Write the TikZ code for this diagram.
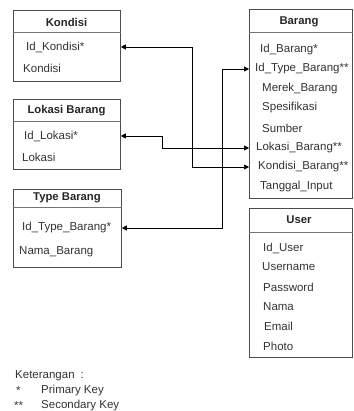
\documentclass[tikz,border=0pt]{standalone}
\usepackage{fontspec}
\setmainfont{Liberation Sans}
\usetikzlibrary{
    arrows.meta,
    positioning
}

\begin{document}
\begin{tikzpicture}[x=1pt, y=-1pt,
    entity/.style={draw=black!70, line width=0.8pt, anchor=north west, inner sep=0pt},
    title/.style={font=\fontsize{11.3}{13}\selectfont\bfseries, text=black!85},
    field/.style={anchor=west, inner sep=0pt, font=\fontsize{11.5}{13}\selectfont, text=black!80},
    sep/.style={draw=black!55, line width=1pt},
    link/.style={<->, >={Triangle[length=5pt,width=5pt]}, line width=0.7pt}
]
\useasboundingbox (0,0) rectangle (353,411);

% Kondisi
\node[entity, minimum width=107pt, minimum height=71pt] (kondisi) at (13,10) {};
\node[title] (tkond) at (66.5,22) {Kondisi};
\draw[sep] (kondisi.west |- 0,33) -- (kondisi.east |- 0,33);
\node[field] (kid) at (26,47) {Id\_Kondisi*};
\node[field] (knama) at (23,68) {Kondisi};

% Lokasi Barang
\node[entity, minimum width=107pt, minimum height=70pt] (lokasi) at (13,99) {};
\node[title] (tlok) at (66.5,111) {Lokasi Barang};
\draw[sep] (lokasi.west |- 0,122) -- (lokasi.east |- 0,122);
\node[field] (lid) at (24,136) {Id\_Lokasi*};
\node[field] (lnama) at (22,157) {Lokasi};

% Type Barang
\node[entity, minimum width=108pt, minimum height=78pt] (type) at (13,189) {};
\node[title] (ttype) at (67,198) {Type Barang};
\draw[sep] (type.west |- 0,208) -- (type.east |- 0,208);
\node[field] (tid) at (22,228) {Id\_Type\_Barang*};
\node[field] (tnama) at (19,252) {Nama\_Barang};

% Barang
\node[entity, minimum width=103pt, minimum height=189pt] (barang) at (249,9) {};
\node[title] (tbar) at (299,22) {Barang};
\draw[sep] (barang.west |- 0,33) -- (barang.east |- 0,33);
\node[field] (bid) at (260,50) {Id\_Barang*};
\node[field] (btype) at (255,69) {Id\_Type\_Barang**};
\node[field] (bmerek) at (262,89) {Merek\_Barang};
\node[field] (bspek) at (262,108) {Spesifikasi};
\node[field] (bsumber) at (262,128) {Sumber};
\node[field] (blok) at (256,148) {Lokasi\_Barang**};
\node[field] (bkond) at (258,167) {Kondisi\_Barang**};
\node[field] (btgl) at (260,187) {Tanggal\_Input};

% User
\node[entity, minimum width=103pt, minimum height=149pt] (user) at (249,208) {};
\node[title] (tuser) at (299,220) {User};
\draw[sep] (user.west |- 0,232) -- (user.east |- 0,232);
\node[field] (uid) at (263,248) {Id\_User};
\node[field] (uname) at (262,267) {Username};
\node[field] (upass) at (263,287) {Password};
\node[field] (unama) at (263,307) {Nama};
\node[field] (uemail) at (264,326) {Email};
\node[field] (uphoto) at (263,346) {Photo};

% relasi
\coordinate (c1) at (192,0);
\coordinate (c2) at (162,0);
\coordinate (c3) at (222,0);
\draw[link] (kondisi.east |- kid) -| (c1 |- bkond) -- (barang.west |- bkond);
\draw[link] (lokasi.east |- lid) -| (c2 |- blok) -- (barang.west |- blok);
\draw[link] (type.east |- tid) -| (c3 |- btype) -- (barang.west |- btype);

% keterangan
\node[field] (ket) at (15,376) {Keterangan\hspace{6pt}:};
\node[field] (s1) at (16,391) {*};
\node[field] (pk) at (41,391) {Primary Key};
\node[field] (s2) at (14,406) {**};
\node[field] (sk) at (41,406) {Secondary Key};
\end{tikzpicture}
\end{document}
